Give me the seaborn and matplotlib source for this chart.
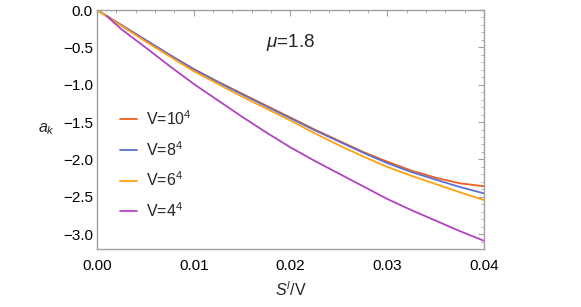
import numpy as np
import pandas as pd
import matplotlib
matplotlib.use('Agg')
import matplotlib.pyplot as plt
from matplotlib.ticker import MultipleLocator
import seaborn as sns

# values
x = [0.0, 0.0025, 0.005, 0.0075, 0.01, 0.0125, 0.015, 0.0175, 0.02,
     0.0225, 0.025, 0.0275, 0.03, 0.0325, 0.035, 0.0375, 0.04]
a_v10 = [0.0, -0.20, -0.40, -0.60, -0.79, -0.96, -1.12, -1.28, -1.44,
         -1.60, -1.75, -1.90, -2.03, -2.15, -2.245, -2.32, -2.36]
a_v8 = [0.0, -0.20, -0.40, -0.60, -0.795, -0.965, -1.13, -1.29, -1.45,
        -1.61, -1.76, -1.91, -2.05, -2.17, -2.27, -2.37, -2.455]
a_v6 = [0.0, -0.21, -0.42, -0.62, -0.82, -0.99, -1.16, -1.32, -1.48,
        -1.65, -1.81, -1.96, -2.10, -2.22, -2.33, -2.44, -2.545]
x_v4 = [0.001, 0.0025, 0.005, 0.0075, 0.01, 0.0125, 0.015, 0.0175, 0.02,
        0.0225, 0.025, 0.0275, 0.03, 0.0325, 0.035, 0.0375, 0.04]
a_v4 = [-0.08, -0.255, -0.50, -0.75, -0.99, -1.21, -1.43, -1.64, -1.84,
        -2.02, -2.19, -2.36, -2.53, -2.68, -2.82, -2.96, -3.09]

labels = ['V=10$^4$', 'V=8$^4$', 'V=6$^4$', 'V=4$^4$']
colors = ['#F0601E', '#5B6FD0', '#FFA010', '#B044C0']

df = pd.concat([
    pd.DataFrame({'x': x, 'a': a_v10, 'V': labels[0]}),
    pd.DataFrame({'x': x, 'a': a_v8, 'V': labels[1]}),
    pd.DataFrame({'x': x, 'a': a_v6, 'V': labels[2]}),
    pd.DataFrame({'x': x_v4, 'a': a_v4, 'V': labels[3]}),
])

sns.set_style('white')
plt.rcParams['font.family'] = ['Liberation Sans', 'DejaVu Sans']
plt.rcParams['mathtext.fontset'] = 'custom'
plt.rcParams['mathtext.rm'] = 'Liberation Sans'
plt.rcParams['mathtext.it'] = 'Liberation Sans:italic'

fig = plt.figure(figsize=(5.81, 3.07), dpi=100)
ax = fig.add_axes([97/581, 1-249/307, 387/581, 239/307])

sns.lineplot(data=df, x='x', y='a', hue='V', hue_order=labels,
             palette=colors, linewidth=1.3, sort=False, ax=ax,
             estimator=None, legend=False)

ax.set_xlim(0, 0.04)
ax.set_ylim(-3.2, 0)
ax.xaxis.set_major_locator(MultipleLocator(0.01))
ax.xaxis.set_minor_locator(MultipleLocator(0.002))
ax.yaxis.set_major_locator(MultipleLocator(0.5))
ax.yaxis.set_minor_locator(MultipleLocator(0.1))
ax.xaxis.set_major_formatter(matplotlib.ticker.FormatStrFormatter('%.2f'))
ax.yaxis.set_major_formatter(matplotlib.ticker.FuncFormatter(
    lambda v, p: ('%.1f' % v).replace('-', '\u2212')))

for s in ax.spines.values():
    s.set_color('#a0a0a0')
    s.set_linewidth(1.0)
ax.tick_params(which='both', direction='in', top=True, right=True,
               color='#a0a0a0', labelsize=11, labelcolor='black')
ax.tick_params(which='major', length=4, width=0.8)
ax.tick_params(which='minor', length=2.2, width=0.6)
ax.tick_params(axis='x', pad=7)
ax.tick_params(axis='y', pad=3)

ax.set_xlabel('$S^l$/V', fontsize=11.5, va='top')
ax.set_ylabel('$a_k$', fontsize=11.5, rotation=0, ha='center', va='center')
ax.xaxis.set_label_coords(0.5, -0.13)
ax.yaxis.set_label_coords(-0.13, 0.5)

ax.text(0.02005, -0.44, '$\\mu$=1.8', fontsize=13.5, ha='center', va='center')

handles = [plt.Line2D([], [], color=c, lw=1.3) for c in colors]
ax.legend(handles, labels, loc='upper left', bbox_to_anchor=(0.059, 0.585),
          frameon=False, fontsize=11.5, handlelength=1.1, handletextpad=0.55,
          labelspacing=0.75, borderpad=0, borderaxespad=0)

fig.savefig('out.png', dpi=100)
